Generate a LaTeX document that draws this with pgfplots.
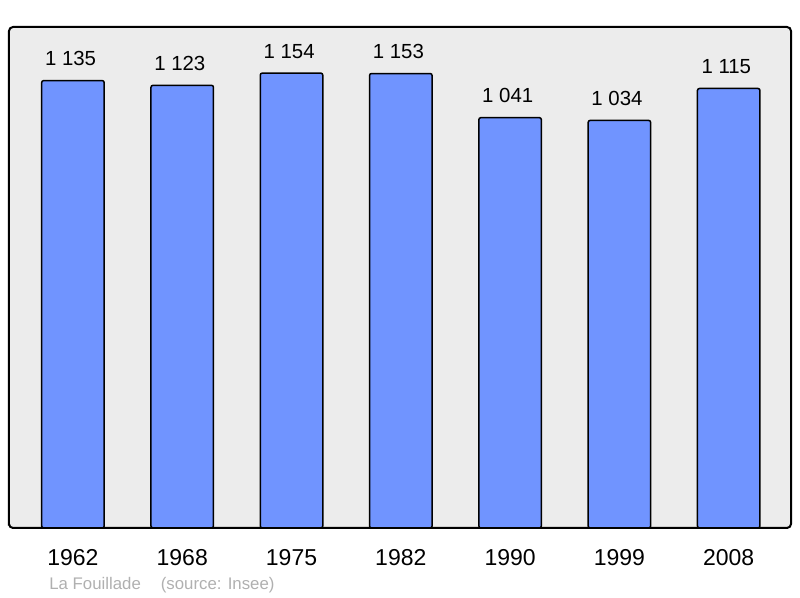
\documentclass[border=0pt]{standalone}
\usepackage{fontspec}
\setmainfont{Liberation Sans}
\usepackage{pgfplots}
\pgfplotsset{compat=1.18}
\definecolor{barblue}{RGB}{112,148,255}
\definecolor{bggray}{RGB}{236,236,236}
\definecolor{srcgray}{RGB}{176,176,176}

\begin{document}
\begin{tikzpicture}
  % frame the page like the 800x598 original (1px = 0.5pt)
  \useasboundingbox (-4.5pt,-35pt) rectangle (395.5pt,264pt);
  \begin{axis}[
      at={(0,0)}, anchor=south west,
      scale only axis,
      width=391pt, height=250.5pt,
      xmin=-0.585, xmax=6.57,
      ymin=0, ymax=1271,
      ybar, bar width=31.25pt,
      axis background/.style={fill=bggray, rounded corners=2pt},
      axis line style={line width=1pt, rounded corners=2pt},
      xtick=data,
      xticklabels={1962,1968,1975,1982,1990,1999,2008},
      xtick style={draw=none},
      xticklabel style={font=\fontsize{11.5}{13}\selectfont, anchor=base, yshift=-14.5pt},
      ytick=\empty,
      point meta=explicit symbolic,
      nodes near coords,
      every node near coord/.append style={font=\fontsize{10.2}{12}\selectfont, anchor=base, xshift=-1.2pt, yshift=7.5pt, inner sep=0pt},
    ]
    \addplot[fill=barblue, draw=black, line width=0.75pt, rounded corners=1pt] coordinates {
      (0,1135) [1 135]
      (1,1123) [1 123]
      (2,1154) [1 154]
      (3,1153) [1 153]
      (4,1041) [1 041]
      (5,1034) [1 034]
      (6,1115) [1 115]
    };
  \end{axis}
  \node[anchor=base west, inner sep=0pt, text=srcgray, font=\fontsize{8.4}{10}\selectfont]
    at (20pt,-31pt) {La Fouillade\hspace{10pt}(source: Insee)};
\end{tikzpicture}
\end{document}
